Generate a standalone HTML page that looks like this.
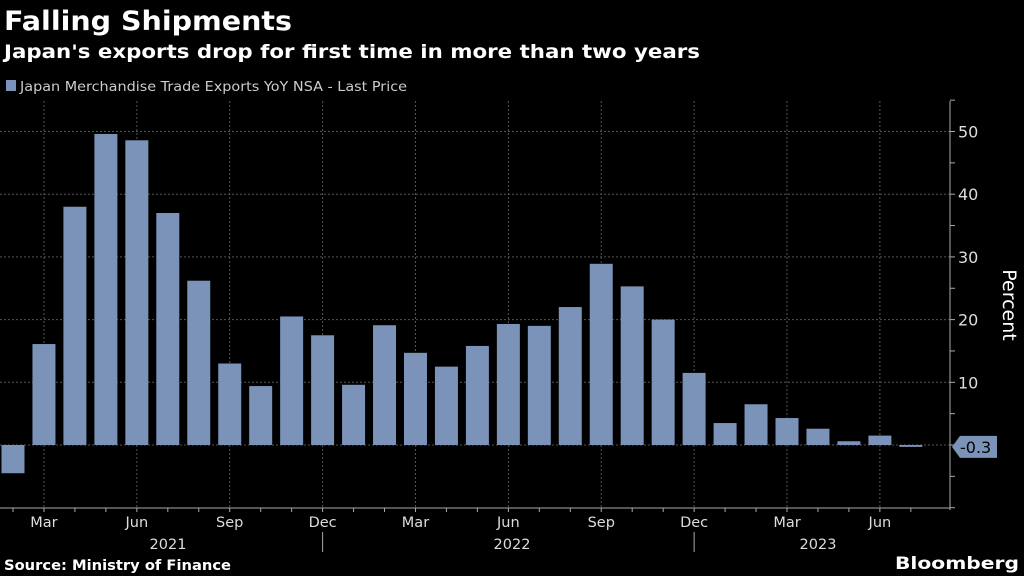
<!DOCTYPE html>
<html><head><meta charset="utf-8"><style>
body{margin:0;background:#000;width:1024px;height:576px;overflow:hidden;font-family:"DejaVu Sans","Liberation Sans",sans-serif;}
svg{display:block}
</style></head><body>
<svg width="1024" height="576" id="chart">
<text x="4" y="30" fill="#fff" font-size="27" font-weight="bold" textLength="288" lengthAdjust="spacingAndGlyphs">Falling Shipments</text>
<text x="4" y="58" fill="#fff" font-size="19" font-weight="bold" textLength="696" lengthAdjust="spacingAndGlyphs">Japan's exports drop for first time in more than two years</text>
<rect x="6" y="80" width="10" height="11" fill="#7b93b8"/>
<text x="20" y="91" fill="#ccc" font-size="13.5" textLength="387" lengthAdjust="spacingAndGlyphs">Japan Merchandise Trade Exports YoY NSA - Last Price</text>
<g id="grid"></g><g id="bars"></g><g id="axes"></g>
<text x="1003" y="305" fill="#fff" font-size="19" transform="rotate(90 1003 305)" text-anchor="middle">Percent</text>
<text x="4" y="570" fill="#fff" font-size="14.5" font-weight="bold" textLength="227" lengthAdjust="spacingAndGlyphs">Source: Ministry of Finance</text>
<text x="895" y="569" fill="#fff" font-size="17" font-weight="bold" textLength="124" lengthAdjust="spacingAndGlyphs">Bloomberg</text>
</svg>
<script>
const months=["Feb","Mar","Apr","May","Jun","Jul","Aug","Sep","Oct","Nov","Dec","Jan","Feb","Mar","Apr","May","Jun","Jul","Aug","Sep","Oct","Nov","Dec","Jan","Feb","Mar","Apr","May","Jun","Jul"];
const values=[-4.5,16.1,38.0,49.6,48.6,37.0,26.2,13.0,9.4,20.5,17.5,9.6,19.1,14.7,12.5,15.8,19.3,19.0,22.0,28.9,25.3,20.0,11.5,3.5,6.5,4.3,2.6,0.6,1.5,-0.3];
const yTicks=[10,20,30,40,50];
const years=["2021","2022","2023"];
const NS="http://www.w3.org/2000/svg";
const x0=13,step=30.96,bw=23;
const X=i=>x0+i*step;
const Y=v=>445-v*6.27;
function mk(t,a,p){const e=document.createElementNS(NS,t);for(const k in a)e.setAttribute(k,a[k]);p.appendChild(e);return e;}
const g=document.getElementById('grid'),b=document.getElementById('bars'),ax=document.getElementById('axes');
yTicks.concat([0]).forEach(v=>{const l=mk('line',{x1:0,x2:950,y1:Y(v),y2:Y(v),stroke:'#555','stroke-dasharray':'2,2'},g);
});
months.forEach((m,i)=>{const q=["Mar","Jun","Sep","Dec"].includes(m);
 if(q){const l=mk('line',{x1:X(i),x2:X(i),y1:101,y2:508,stroke:'#555','stroke-dasharray':'2,2'},g);
 
 const t=mk('text',{x:X(i),y:527,fill:'#ddd','font-size':14.5,'text-anchor':'middle'},ax);t.textContent=m;
 }
 const tk=mk('line',{x1:X(i),x2:X(i),y1:508,y2:512,stroke:'#aaa'},ax);
 
 if(m==="Dec"){const s=mk('line',{x1:X(i),x2:X(i),y1:532,y2:552,stroke:'#aaa'},ax);
 }
 const v=values[i];const r=mk('rect',{x:X(i)-bw/2,y:Math.min(Y(v),Y(0)),width:bw,height:Math.max(Math.abs(Y(v)-Y(0)),1),fill:'#7b93b8'},b);
 
});
years.forEach((y,i)=>{const t=mk('text',{x:[168,512,818][i],y:549,fill:'#ddd','font-size':14.5,'text-anchor':'middle'},ax);t.textContent=y;
 });
const xl=mk('line',{x1:0,x2:950,y1:508,y2:508,stroke:'#aaa'},ax);
const yaxis=mk('line',{x1:950,x2:950,y1:101,y2:510,stroke:'#aaa'},ax);
for(let v=-10;v<=55;v+=5){const t=mk('line',{x1:950,x2:955,y1:Y(v),y2:Y(v),stroke:'#aaa'},ax);}
yTicks.forEach(v=>{const t=mk('text',{x:958,y:Y(v)+6,fill:'#ddd','font-size':16},ax);t.textContent=v;
 });
const last=values[values.length-1];const ly=Y(last);
const tag=mk('path',{d:`M952 ${ly} L960 ${ly-11} H997 V${ly+11} H960 Z`,fill:'#7b93b8'},ax);

const tt=mk('text',{x:960,y:ly+6,fill:'#000','font-size':16},ax);tt.textContent=last.toFixed(1);

</script>
</body></html>
